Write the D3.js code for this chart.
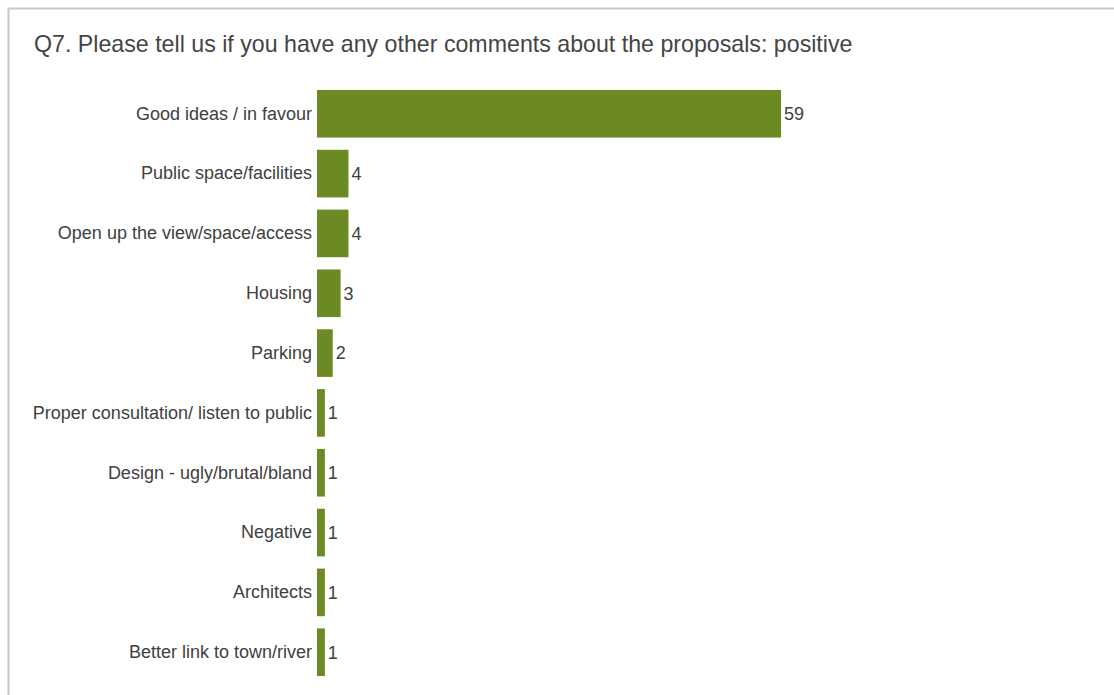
<!DOCTYPE html>
<html>
<head>
<meta charset="utf-8">
<script src="https://cdn.jsdelivr.net/npm/d3@7"></script>
<style>
  html, body { margin: 0; padding: 0; background: #fff; }
  svg { display: block; }
</style>
</head>
<body>
<script>
const title = "Q7. Please tell us if you have any other comments about the proposals: positive";
const categories = [
  "Good ideas / in favour",
  "Public space/facilities",
  "Open up the view/space/access",
  "Housing",
  "Parking",
  "Proper consultation/ listen to public",
  "Design - ugly/brutal/bland",
  "Negative",
  "Architects",
  "Better link to town/river"
];
const values = [59, 4, 4, 3, 2, 1, 1, 1, 1, 1];

const W = 1114, H = 695;
const FONT = "Liberation Sans, Arial, sans-serif";
const svg = d3.select("body").append("svg").attr("width", W).attr("height", H);

// outer frame
svg.append("rect")
  .attr("x", 8.5).attr("y", 8.5)
  .attr("width", W + 20).attr("height", H + 20)
  .attr("fill", "#fff").attr("stroke", "#c8c8c8").attr("stroke-width", 2);

svg.append("text")
  .attr("x", 34).attr("y", 52)
  .attr("font-family", FONT)
  .attr("font-size", 23.2)
  .attr("fill", "#444444")
  .text(title);

const x = d3.scaleLinear().domain([0, 59]).range([317, 781]);
const y = d3.scaleBand().domain(categories).range([84, 682]).paddingInner(0.204).paddingOuter(0.1);

const data = categories.map((c, i) => ({ c, v: values[i] }));

svg.selectAll("rect.bar").data(data).join("rect")
  .attr("class", "bar")
  .attr("x", x(0))
  .attr("y", d => y(d.c))
  .attr("width", d => x(d.v) - x(0))
  .attr("height", y.bandwidth())
  .attr("fill", "#6b8a23");

const yAxis = d3.axisLeft(y).tickSize(0).tickPadding(5);
const ga = svg.append("g").attr("transform", `translate(${x(0)},0)`).call(yAxis);
ga.select(".domain").remove();
ga.selectAll("text")
  .attr("font-family", FONT)
  .attr("font-size", 18)
  .attr("fill", "#404040");

svg.selectAll("text.val").data(data).join("text")
  .attr("class", "val")
  .attr("x", d => x(d.v) + 3)
  .attr("y", d => y(d.c) + y.bandwidth() / 2)
  .attr("dy", "0.35em")
  .attr("font-family", FONT)
  .attr("font-size", 18)
  .attr("fill", "#404040")
  .text(d => d.v);
</script>
</body>
</html>
